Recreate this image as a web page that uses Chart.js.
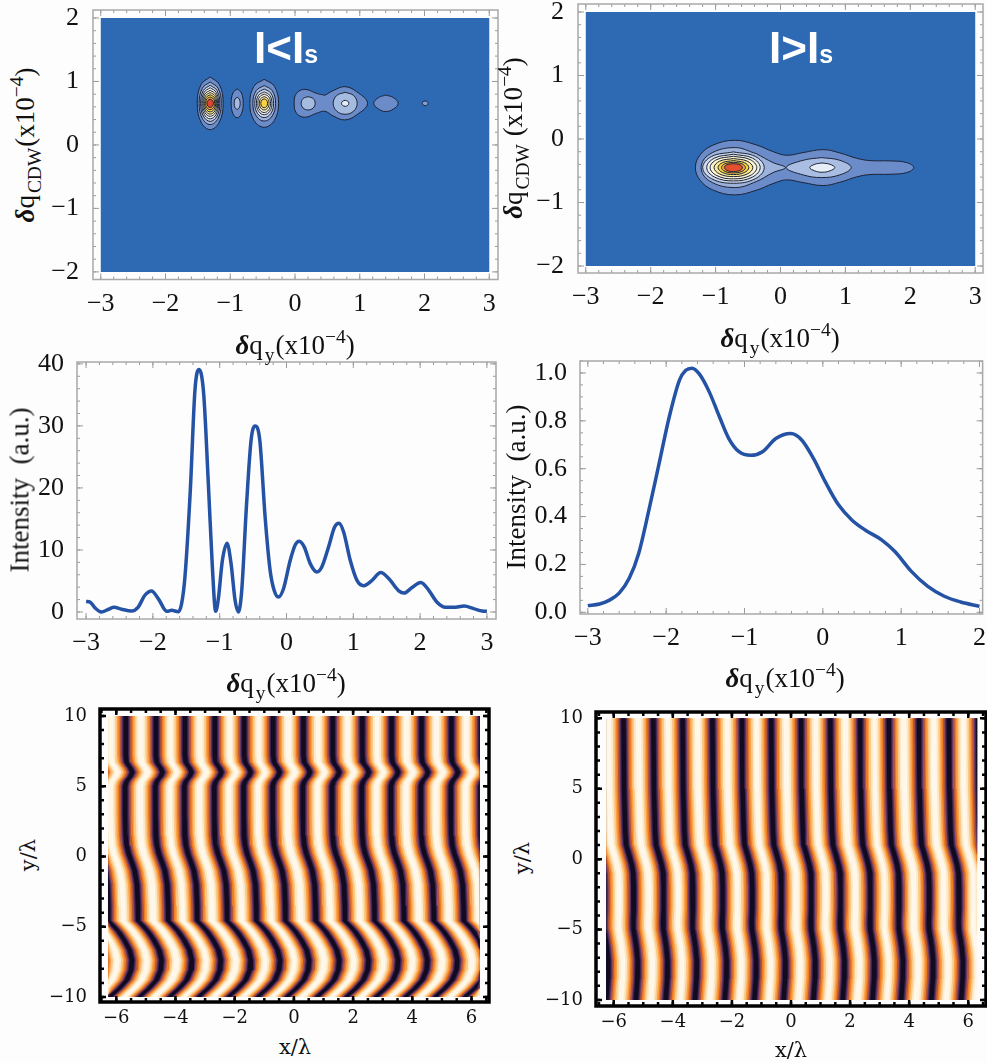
<!DOCTYPE html>
<html>
<head>
<meta charset="utf-8">
<title>Intensity maps</title>
<script src="https://cdn.jsdelivr.net/npm/chart.js@4/dist/chart.umd.js"></script>
<style>
html, body { margin: 0; padding: 0; background: #fdfdfd; }
body { position: relative; width: 987px; height: 1063px; overflow: hidden; }
canvas { position: absolute; }
.lbl { position: absolute; white-space: nowrap; font-family: "Liberation Serif", serif; color: #111; transform: translate(-50%, -50%); line-height: 1; }
.rot { transform: translate(-50%, -50%) rotate(-90deg); }
.lbl sub, .lbl sup { font-size: 0.72em; line-height: 0; }
.lbl sub { vertical-align: -0.38em; margin: 0 1px 0 2px; }
.lbl sup { vertical-align: 0.55em; }
.lbl b { font-style: italic; }
.xl { font: 21px "DejaVu Serif", serif; }
.tag { position: absolute; white-space: nowrap; font: bold 44px "Liberation Sans", sans-serif; color: #fff; line-height: 1; }
.tag span { font-size: 25px; }
</style>
</head>
<body>
<canvas id="mapLow"></canvas>
<canvas id="mapHigh"></canvas>
<canvas id="specLow"></canvas>
<canvas id="specHigh"></canvas>
<canvas id="fringeLow"></canvas>
<canvas id="fringeHigh"></canvas>

<div class="tag" style="left:254px;top:26px">I&lt;I<span>s</span></div>
<div class="tag" style="left:769px;top:26px">I&gt;I<span>s</span></div>

<div class="lbl" style="left:295px;top:345px;font-size:27px"><b>δ</b>q<sub>y</sub>(x10<sup>−4</sup>)</div>
<div class="lbl rot" style="left:25px;top:145px;font-size:27px"><b>δ</b>q<sub>CDW</sub>(x10<sup>−4</sup>)</div>
<div class="lbl" style="left:780px;top:338px;font-size:27px"><b>δ</b>q<sub>y</sub>(x10<sup>−4</sup>)</div>
<div class="lbl rot" style="left:513px;top:138px;font-size:27px"><b>δ</b>q<sub>CDW</sub> (x10<sup>−4</sup>)</div>
<div class="lbl" style="left:286px;top:683px;font-size:27px"><b>δ</b>q<sub>y</sub>(x10<sup>−4</sup>)</div>
<div class="lbl rot" style="left:20px;top:490px;font-size:27px">Intensity&nbsp; (a.u.)</div>
<div class="lbl" style="left:785px;top:678px;font-size:27px"><b>δ</b>q<sub>y</sub>(x10<sup>−4</sup>)</div>
<div class="lbl rot" style="left:516px;top:487px;font-size:27px">Intensity&nbsp; (a.u.)</div>
<div class="lbl xl" style="left:295px;top:1047px">x/λ</div>
<div class="lbl rot xl" style="left:28px;top:855px">y/λ</div>
<div class="lbl xl" style="left:791px;top:1050px">x/λ</div>
<div class="lbl rot xl" style="left:522px;top:858px">y/λ</div>

<script>
// tick values
const qyTicks = [-3, -2, -1, 0, 1, 2, 3];
const qyTicksHigh = [-3, -2, -1, 0, 1, 2];
const cdwTicks = [-2, -1, 0, 1, 2];
const intensityTicks = [0, 10, 20, 30, 40];
const relIntensityTicks = [0, 0.2, 0.4, 0.6, 0.8, 1];
const fringeXTicks = [-6, -4, -2, 0, 2, 4, 6];
const fringeYTicks = [-10, -5, 0, 5, 10];

// line cuts
const specLowX = [-3, -2.94, -2.87, -2.77, -2.67, -2.58, -2.47, -2.32, -2.22, -2.12, -2.02, -1.92, -1.79, -1.72, -1.62, -1.57, -1.52, -1.44, -1.37, -1.31, -1.24, -1.17, -1.11, -1.06, -1.02, -0.96, -0.89, -0.83, -0.77, -0.72, -0.67, -0.6, -0.53, -0.47, -0.4, -0.32, -0.245, -0.185, -0.12, -0.045, 0.055, 0.13, 0.19, 0.265, 0.355, 0.455, 0.53, 0.63, 0.72, 0.785, 0.855, 0.955, 1.055, 1.155, 1.28, 1.41, 1.53, 1.68, 1.76, 1.88, 2.01, 2.13, 2.25, 2.38, 2.5, 2.66, 2.8, 2.93, 3];
const specLowY = [1.7, 1.6, 0.7, 0, 0.4, 0.75, 0.45, 0.15, 0.8, 2.7, 3.4, 2.15, 0.1, 0.27, 0.05, 1.35, 5.65, 19.6, 35.8, 39.1, 35.2, 20.7, 7.3, 0.1, 2.15, 8.3, 11.1, 7.8, 1.9, 0, 3.5, 17, 27.7, 30, 27.7, 15.3, 6.7, 3.5, 2.4, 3.75, 8.3, 10.8, 11.4, 10.5, 7.8, 6.45, 7.3, 10.5, 13.7, 14.3, 12.9, 8.3, 5.1, 4.25, 5.1, 6.35, 5.4, 3.4, 3.05, 3.95, 4.75, 3.5, 1.6, 0.75, 0.75, 0.95, 0.55, 0.15, 0.1];
const specHighX = [-3, -2.85, -2.73, -2.6, -2.47, -2.35, -2.22, -2.09, -1.96, -1.83, -1.75, -1.67, -1.58, -1.45, -1.32, -1.2, -1.07, -0.92, -0.77, -0.6, -0.41, -0.27, -0.12, 0.03, 0.2, 0.37, 0.54, 0.75, 0.92, 1.13, 1.34, 1.55, 1.76, 2];
const specHighY = [0.028, 0.035, 0.05, 0.08, 0.143, 0.247, 0.428, 0.622, 0.817, 0.97, 1.011, 1.02, 0.997, 0.921, 0.817, 0.726, 0.671, 0.656, 0.671, 0.726, 0.747, 0.72, 0.643, 0.546, 0.449, 0.386, 0.344, 0.303, 0.254, 0.171, 0.108, 0.067, 0.043, 0.025];

// contour levels: upper half of every contour as [qy, height above the ridge]
const mapBackground = [[-3, -2], [3, -2], [3, 2], [-3, 2]];
const ridgeLow = 0.656;
const contoursLow = [
  [[-1.51, 0], [-1.452, 0.295], [-1.31, 0.415], [-1.168, 0.295], [-1.11, 0]],
  [[-1.48, 0], [-1.431, 0.238], [-1.31, 0.335], [-1.189, 0.238], [-1.14, 0]],
  [[-1.458, 0], [-1.415, 0.202], [-1.31, 0.285], [-1.205, 0.202], [-1.162, 0]],
  [[-1.44, 0], [-1.402, 0.174], [-1.31, 0.245], [-1.218, 0.174], [-1.18, 0]],
  [[-1.425, 0], [-1.392, 0.146], [-1.31, 0.205], [-1.228, 0.146], [-1.195, 0]],
  [[-1.41, 0], [-1.381, 0.121], [-1.31, 0.17], [-1.239, 0.121], [-1.21, 0]],
  [[-1.395, 0], [-1.37, 0.096], [-1.31, 0.135], [-1.25, 0.096], [-1.225, 0]],
  [[-1.38, 0], [-1.36, 0.071], [-1.31, 0.1], [-1.26, 0.071], [-1.24, 0]],
  [[-1.36, 0], [-1.345, 0.046], [-1.31, 0.065], [-1.275, 0.046], [-1.26, 0]],
  [[-0.986, 0], [-0.959, 0.162], [-0.893, 0.228], [-0.827, 0.162], [-0.8, 0]],
  [[-0.939, 0], [-0.926, 0.067], [-0.893, 0.095], [-0.86, 0.067], [-0.847, 0]],
  [[-0.698, 0], [-0.634, 0.268], [-0.476, 0.378], [-0.318, 0.268], [-0.254, 0]],
  [[-0.651, 0], [-0.6, 0.199], [-0.476, 0.28], [-0.352, 0.199], [-0.301, 0]],
  [[-0.621, 0], [-0.579, 0.16], [-0.476, 0.225], [-0.373, 0.16], [-0.331, 0]],
  [[-0.596, 0], [-0.561, 0.128], [-0.476, 0.18], [-0.391, 0.128], [-0.356, 0]],
  [[-0.574, 0], [-0.546, 0.103], [-0.476, 0.145], [-0.406, 0.103], [-0.378, 0]],
  [[-0.551, 0], [-0.529, 0.075], [-0.476, 0.105], [-0.423, 0.075], [-0.401, 0]],
  [[-0.528, 0], [-0.513, 0.05], [-0.476, 0.07], [-0.439, 0.05], [-0.424, 0]],
  [[-0.013, 0], [0.023, 0.157], [0.152, 0.22], [0.332, 0.157], [0.461, 0.126], [0.59, 0.2], [0.77, 0.262], [0.95, 0.184], [1.12, 0]],
  [[0.095, 0], [0.126, 0.075], [0.203, 0.105], [0.28, 0.075], [0.311, 0]],
  [[0.59, 0], [0.644, 0.123], [0.775, 0.173], [0.906, 0.123], [0.96, 0]],
  [[0.718, 0], [0.735, 0.033], [0.775, 0.047], [0.815, 0.033], [0.832, 0]],
  [[1.215, 0], [1.29, 0.09], [1.4, 0.13], [1.52, 0.09], [1.593, 0]],
  [[1.965, 0], [1.978, 0.026], [2.01, 0.037], [2.042, 0.026], [2.055, 0]]
];
const contourColorsLow = ['#6b8cc9', '#9db3dc', '#cdd9ec', '#f0f0ea', '#fbf4cf', '#fbe88f', '#f8d345', '#f2a43a', '#e0452d',
  '#6b8cc9', '#a5bbe0',
  '#6b8cc9', '#9db3dc', '#cdd9ec', '#f0f0ea', '#fbf4cf', '#fbe88f', '#fad23c',
  '#6b8cc9', '#a5bbe0', '#a5bbe0', '#e6ecf5', '#6b8cc9', '#85a0d4'];

const ridgeHigh = -0.45;
const contoursHigh = [
  [[-1.311, 0], [-1.238, 0.2], [-1.043, 0.352], [-0.708, 0.43], [-0.373, 0.357], [-0.116, 0.252], [0.09, 0.194], [0.348, 0.236], [0.657, 0.283], [0.914, 0.231], [1.172, 0.147], [1.377, 0.11], [1.686, 0.105], [1.944, 0.079], [2.052, 0]],
  [[-1.223, 0], [-1.094, 0.21], [-0.708, 0.315], [-0.373, 0.22], [-0.116, 0.079], [0.075, 0]],
  [[0.09, 0], [0.348, 0.115], [0.631, 0.157], [0.914, 0.115], [1.089, 0]],
  [[0.451, 0], [0.528, 0.052], [0.641, 0.073], [0.76, 0.052], [0.837, 0]],
  [[-1.199, 0], [-1.062, 0.175], [-0.725, 0.247], [-0.388, 0.175], [-0.251, 0]],
  [[-1.137, 0], [-1.018, 0.149], [-0.725, 0.21], [-0.432, 0.149], [-0.313, 0]],
  [[-1.085, 0], [-0.981, 0.126], [-0.725, 0.178], [-0.469, 0.126], [-0.365, 0]],
  [[-1.024, 0], [-0.937, 0.101], [-0.725, 0.142], [-0.513, 0.101], [-0.426, 0]],
  [[-0.962, 0], [-0.893, 0.078], [-0.725, 0.11], [-0.557, 0.078], [-0.488, 0]],
  [[-0.91, 0], [-0.856, 0.06], [-0.725, 0.084], [-0.594, 0.06], [-0.54, 0]],
  [[-0.864, 0], [-0.824, 0.045], [-0.725, 0.063], [-0.626, 0.045], [-0.586, 0]]
];
const contourColorsHigh = ['#6b8cc9', '#9db3dc', '#a9bee2', '#e8eef7', '#cdd9ec', '#f0f0ea', '#fbf4cf', '#fbe88f', '#f8d345', '#f2a43a', '#e3502d'];

// fringes: dark line position at the top edge, and how far it has moved at each y
const darkLinesLow = [-7.68, -6.68, -5.68, -4.66, -3.68, -2.67, -1.68, -0.70, 0.32, 1.31, 2.31, 3.30, 4.31, 5.32, 6.32];
const levelsLow = [10, 8, 7.2, 6.7, 6.5, 6.3, 6, 5.7, 5.5, 5.3, 5, 3, 1.5, 0.8, 0.2, -0.5, -1, -2, -3.5, -4.6, -4.95, -5.35, -5.94, -6.65, -7.37, -8.08, -8.79, -9.38, -9.86, -10];
const shiftLow = [0, 0, 0, 0.03, 0.09, 0.16, 0.22, 0.16, 0.08, 0.02, -0.02, -0.02, 0, 0.03, 0.1, 0.22, 0.3, 0.38, 0.41, 0.42, 0.59, 0.76, 0.95, 1.13, 1.21, 1.18, 1.04, 0.79, 0.53, 0.47];
const darkLinesHigh = [-7.67, -6.67, -5.67, -4.66, -3.67, -2.66, -1.66, -0.67, 0.34, 1.33, 2.34, 3.31, 4.33, 5.34, 6.33];
const levelsHigh = [10, 5, 2, 1, 0.3, -0.4, -1, -2, -3.5, -4.5, -5, -5.6, -6.3, -7.2, -8.5, -10];
const shiftHigh = [0, 0.02, 0.06, 0.09, 0.19, 0.28, 0.33, 0.35, 0.35, 0.33, 0.34, 0.39, 0.44, 0.48, 0.47, 0.42];
const bandHalfWidths = [0.42, 0.36, 0.3, 0.25, 0.2, 0.145, 0.11, 0.075];
const bandColors = ['#fde9c6', '#fcc98a', '#f8a24a', '#ee7d22', '#b4553a', '#6a3868', '#3a2450', '#120b20'];
const fringeBoundsLow = [[-6.28, -10], [6.28, -10], [6.28, 10], [-6.28, 10]];
const fringeBoundsHigh = [[-6.26, -10], [6.3, -10], [6.3, 10], [-6.26, 10]];

const serif = 'Liberation Serif';

function fmtTick(v) {
  return v < 0 ? '\u2212' + Math.abs(v) : String(v);
}

// frame and inward ticks on all four sides
const framePlugin = {
  id: 'frame',
  afterDraw(chart) {
    const o = chart.options.plugins.frame;
    const { left, right, top, bottom } = chart.chartArea;
    const ctx = chart.ctx;
    const xs = chart.scales.x, ys = chart.scales.y;
    ctx.save();
    ctx.strokeStyle = o.tickColor;
    ctx.lineWidth = o.tickWidth;
    function minors(scale, step) {
      const out = [];
      for (let i = Math.ceil(scale.min / step); i <= Math.floor(scale.max / step); i++) out.push(i * step);
      return out;
    }
    function xTick(v, len) {
      const p = xs.getPixelForValue(v);
      ctx.beginPath();
      ctx.moveTo(p, bottom); ctx.lineTo(p, bottom - len);
      ctx.moveTo(p, top); ctx.lineTo(p, top + len);
      ctx.stroke();
    }
    function yTick(v, len) {
      const p = ys.getPixelForValue(v);
      ctx.beginPath();
      ctx.moveTo(left, p); ctx.lineTo(left + len, p);
      ctx.moveTo(right, p); ctx.lineTo(right - len, p);
      ctx.stroke();
    }
    minors(xs, o.minorX).forEach(v => xTick(v, o.minorLen));
    minors(ys, o.minorY).forEach(v => yTick(v, o.minorLen));
    xs.ticks.forEach(t => xTick(t.value, o.majorLen));
    ys.ticks.forEach(t => yTick(t.value, o.majorLen));
    ctx.strokeStyle = o.color;
    ctx.lineWidth = o.width;
    ctx.strokeRect(left, top, right - left, bottom - top);
    ctx.restore();
  }
};

function makePanel(id, box, area, p, datasets) {
  const cv = document.getElementById(id);
  cv.width = box[2] - box[0];
  cv.height = box[3] - box[1];
  cv.style.left = box[0] + 'px';
  cv.style.top = box[1] + 'px';
  cv.style.width = cv.width + 'px';
  cv.style.height = cv.height + 'px';
  const font = { family: p.fontFamily || serif, size: p.fontSize || 26 };
  datasets.forEach((d, i) => { d.order = datasets.length - i; });
  return new Chart(cv, {
    type: 'scatter',
    data: { datasets: datasets },
    plugins: [framePlugin],
    options: {
      responsive: false,
      animation: false,
      devicePixelRatio: 1,
      events: [],
      layout: { autoPadding: false, padding: { top: area[1] - box[1], right: box[2] - area[2], left: 0, bottom: 0 } },
      plugins: { legend: { display: false }, tooltip: { enabled: false }, frame: p.frame },
      scales: {
        x: {
          type: 'linear', min: p.xRange[0], max: p.xRange[1],
          grid: { display: false }, border: { display: false },
          ticks: { color: '#111', font: font, padding: p.padX, maxRotation: 0, autoSkip: false, callback: p.fmtX || fmtTick },
          afterBuildTicks: s => { s.ticks = p.xTicks.map(v => ({ value: v })); },
          afterFit: s => { s.height = box[3] - area[3]; }
        },
        y: {
          type: 'linear', min: p.yRange[0], max: p.yRange[1],
          grid: { display: false }, border: { display: false },
          ticks: { color: '#111', font: font, padding: p.padY, autoSkip: false, callback: p.fmtY || fmtTick },
          afterBuildTicks: s => { s.ticks = p.yTicks.map(v => ({ value: v })); },
          afterFit: s => { s.width = area[0] - box[0]; }
        }
      }
    }
  });
}

function toPoints(pairs) {
  return pairs.map(q => ({ x: q[0], y: q[1] }));
}

// closed area in flat colour
function areaSet(pairs, color) {
  const pts = toPoints(pairs);
  pts.push(pts[0]);
  return { data: pts, showLine: true, fill: 'shape', backgroundColor: color, borderWidth: 0, pointRadius: 0, tension: 0 };
}

// mirror the upper half about the ridge; the seam goes on the flat top so the tips stay round
function contourSet(upper, ridge, color) {
  const ring = upper.map(q => ({ x: q[0], y: ridge + q[1] }));
  for (let i = upper.length - 2; i > 0; i--) ring.push({ x: upper[i][0], y: ridge - upper[i][1] });
  const mid = Math.floor(upper.length / 2);
  const pts = ring.slice(mid).concat(ring.slice(0, mid + 1));
  return { data: pts, showLine: true, fill: 'shape', backgroundColor: color, borderColor: '#1c2336', borderWidth: 1, pointRadius: 0, tension: 0.4 };
}

function mapSets(contours, ridge, colors) {
  const sets = [areaSet(mapBackground, '#2d6ab3')];
  contours.forEach((c, i) => sets.push(contourSet(c, ridge, colors[i])));
  return sets;
}

function curveSet(xs, ys) {
  return [{
    data: xs.map((x, i) => ({ x: x, y: ys[i] })),
    showLine: true, borderColor: '#2452a4', borderWidth: 3.5, pointRadius: 0,
    cubicInterpolationMode: 'monotone', fill: false
  }];
}

// every colour band is a closed outline around a dark line, cut at the image edge
function fringeSets(lines, levels, shift, bounds) {
  const minX = bounds[0][0], maxX = bounds[1][0];
  const sets = [areaSet(bounds, '#fff8ea')];
  bandHalfWidths.forEach((w, b) => {
    lines.forEach(line => {
      const pts = [];
      levels.forEach((y, i) => {
        pts.push({ x: Math.min(maxX, Math.max(minX, line + shift[i] - w)), y: y });
      });
      for (let i = levels.length - 1; i >= 0; i--) {
        pts.push({ x: Math.min(maxX, Math.max(minX, line + shift[i] + w)), y: levels[i] });
      }
      pts.push(pts[0]);
      sets.push({ data: pts, showLine: true, fill: 'shape', backgroundColor: bandColors[b], borderWidth: 0, pointRadius: 0, tension: 0 });
    });
  });
  return sets;
}

const grayFrame = { color: '#a8a8a8', width: 1.5, tickColor: '#9a9a9a', tickWidth: 1, majorLen: 6, minorLen: 3, minorX: 0.2, minorY: 0.2 };
const blackFrame = { color: '#000', width: 3.5, tickColor: '#000', tickWidth: 2.5, majorLen: 6, minorLen: 4, minorX: 0.5, minorY: 1 };

makePanel('mapLow', [45, -30, 505, 320], [93, 10, 498, 279.5], {
  xRange: [-3.12, 3.135], yRange: [-2.12, 2.126], xTicks: qyTicks, yTicks: cdwTicks, padX: 1, padY: 6, frame: grayFrame
}, mapSets(contoursLow, ridgeLow, contourColorsLow));

makePanel('mapHigh', [530, -36, 987, 320], [578, 4, 983, 273], {
  xRange: [-3.12, 3.12], yRange: [-2.11, 2.126], xTicks: qyTicks, yTicks: cdwTicks, padX: 1, padY: 6, frame: grayFrame
}, mapSets(contoursHigh, ridgeHigh, contourColorsHigh));

makePanel('specLow', [30, 322, 505, 660], [77, 362, 496, 619], {
  xRange: [-3.136, 3.136], yRange: [-1.13, 40.3], xTicks: qyTicks, yTicks: intensityTicks, padX: 1, padY: 5,
  frame: Object.assign({}, grayFrame, { minorY: 2 })
}, curveSet(specLowX, specLowY));

makePanel('specHigh', [530, 321, 987, 660], [580, 361, 986, 614], {
  xRange: [-3.1, 2.04], yRange: [-0.007, 1.05], xTicks: qyTicksHigh, yTicks: relIntensityTicks, padX: 1, padY: 5,
  fmtY: v => v.toFixed(1),
  frame: Object.assign({}, grayFrame, { minorY: 0.05 })
}, curveSet(specHighX, specHighY));

makePanel('fringeLow', [40, 669, 500, 1035], [100, 709, 489, 1002], {
  xRange: [-6.55, 6.59], yRange: [-10.36, 10.5], xTicks: fringeXTicks, yTicks: fringeYTicks, padX: -2, padY: 5,
  fontFamily: 'DejaVu Serif', fontSize: 18, frame: blackFrame
}, fringeSets(darkLinesLow, levelsLow, shiftLow, fringeBoundsLow));

makePanel('fringeHigh', [535, 672, 987, 1040], [596, 712, 986, 1006], {
  xRange: [-6.6, 6.6], yRange: [-10.43, 10.45], xTicks: fringeXTicks, yTicks: fringeYTicks, padX: -2, padY: 5,
  fontFamily: 'DejaVu Serif', fontSize: 18, frame: blackFrame
}, fringeSets(darkLinesHigh, levelsHigh, shiftHigh, fringeBoundsHigh));
</script>
</body>
</html>
